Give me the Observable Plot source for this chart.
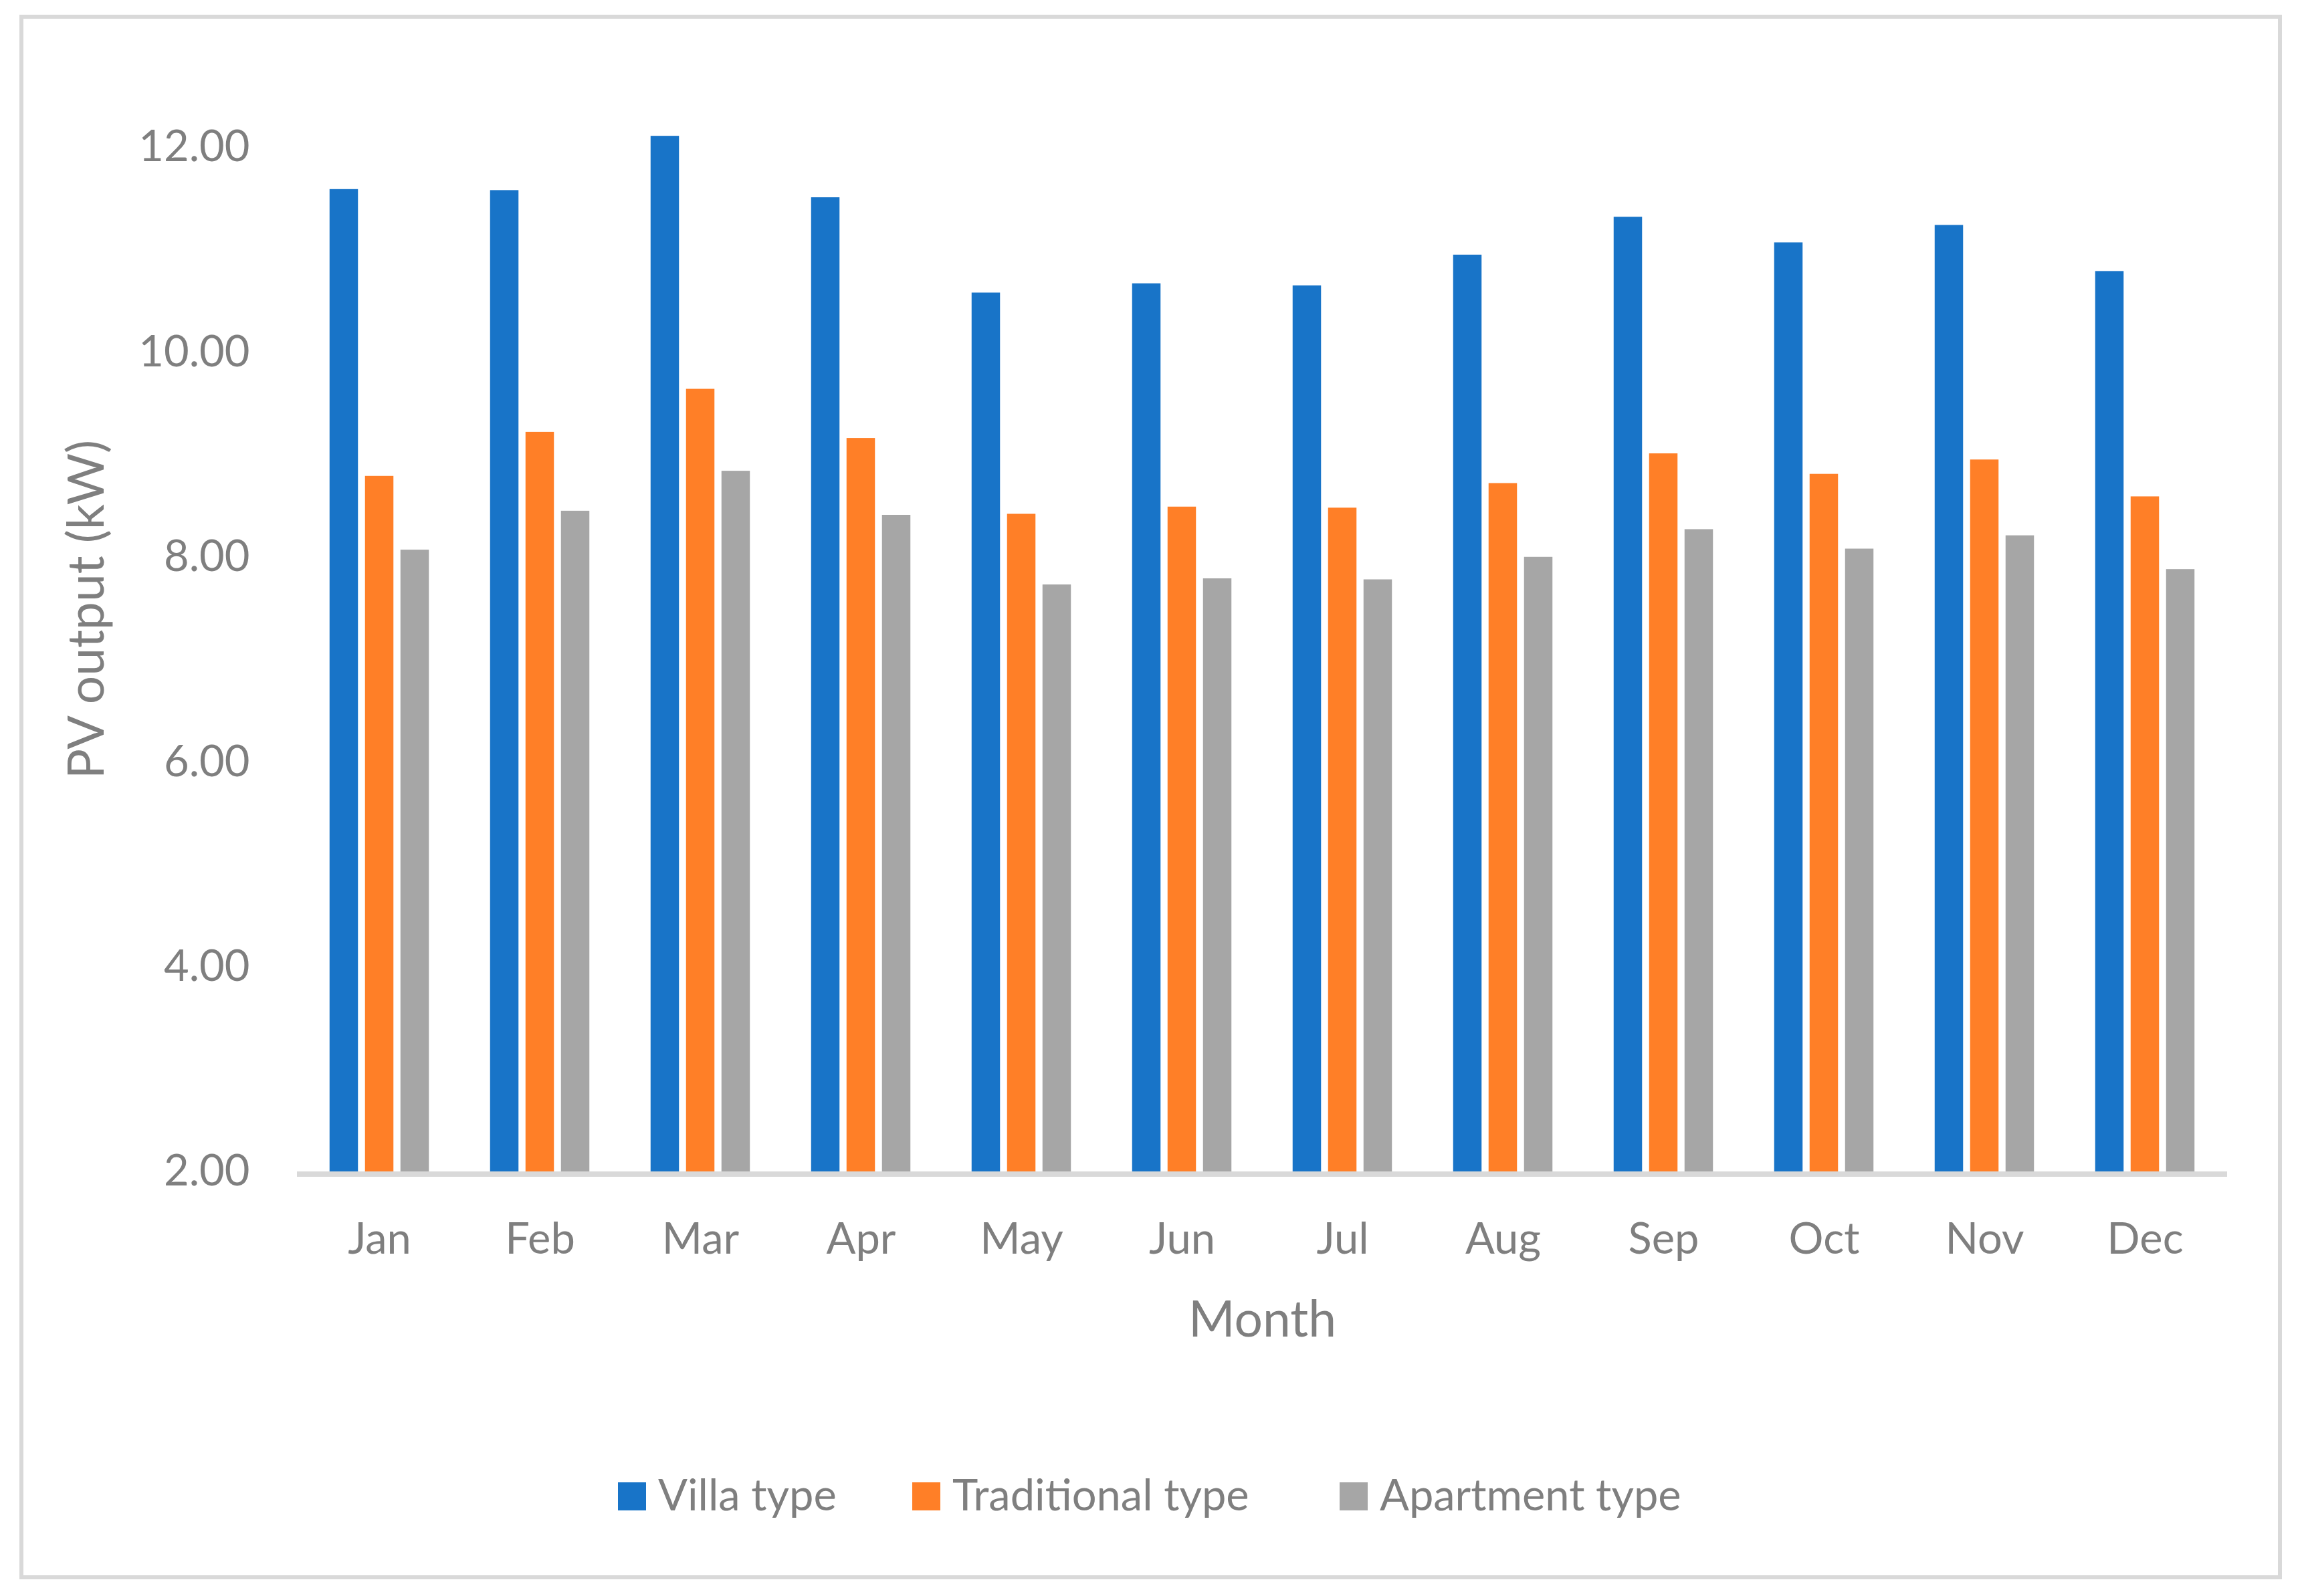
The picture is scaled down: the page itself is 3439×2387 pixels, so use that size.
<!DOCTYPE html>
<html>
<head>
<meta charset="utf-8">
<script src="https://cdn.jsdelivr.net/npm/d3@7"></script>
<script src="https://cdn.jsdelivr.net/npm/@observablehq/plot@0.6"></script>
<style>
html, body { margin: 0; padding: 0; background: #ffffff; overflow: hidden; }
#wrap { position: relative; width: 3439px; height: 2387px; font-family: Lato, "Open Sans", sans-serif; color: #7f7f7f; background: #ffffff; }
#frame { position: absolute; left: 29px; top: 22px; width: 3383px; height: 2340px; border: 6px solid #d9d9d9; box-sizing: border-box; z-index: 2; pointer-events: none; }
#chart { position: absolute; left: 0; top: 0; }
#legend { position: absolute; top: 2202px; left: 0; width: 3439px; height: 80px; font-size: 65px; line-height: 65px; }
.item { position: absolute; top: 0; white-space: nowrap; }
.sw { display: inline-block; width: 42px; height: 42px; margin-right: 18px; }
</style>
</head>
<body>
<div id="wrap">
  <div id="chart"></div>
  <div id="legend"></div>
  <div id="frame"></div>
</div>
<script>
// ---- data ----
const months = ["Jan", "Feb", "Mar", "Apr", "May", "Jun", "Jul", "Aug", "Sep", "Oct", "Nov", "Dec"];
const seriesNames = ["Villa type", "Traditional type", "Apartment type"];
const seriesColors = ["#1874c8", "#ff7f27", "#a6a6a6"];
const villa       = [11.59, 11.58, 12.11, 11.51, 10.58, 10.67, 10.65, 10.95, 11.32, 11.07, 11.24, 10.79];
const traditional = [8.79, 9.22, 9.64, 9.16, 8.42, 8.49, 8.48, 8.72, 9.01, 8.81, 8.95, 8.59];
const apartment   = [8.07, 8.45, 8.84, 8.41, 7.73, 7.79, 7.78, 8.00, 8.27, 8.08, 8.21, 7.88];
const yTicks = [2, 4, 6, 8, 10, 12];
const yTitle = "PV output (kW)";
const xTitle = "Month";

const seriesValues = [villa, traditional, apartment];
const table = months.flatMap((m, i) =>
  seriesNames.map((s, j) => ({ month: m, series: s, value: seriesValues[j][i] }))
);

const barOffset = 53;      // distance between bar centres inside a month
const barInset = 98.75;    // leaves 43px wide bars in a 240.5px band

const plot = Plot.plot({
  width: 3439,
  height: 2100,
  marginLeft: 444,
  marginRight: 109,
  marginTop: 66.8,
  marginBottom: 348,
  style: {
    fontFamily: "Lato, 'Open Sans', sans-serif",
    fontSize: "65px",
    color: "#7f7f7f",
    background: "transparent",
    overflow: "visible"
  },
  x: { domain: months, padding: 0, label: null, tickSize: 0, tickPadding: 76 },
  y: { domain: [2, 13], ticks: yTicks, tickFormat: d3.format(".2f"), label: null, tickSize: 0, tickPadding: 71 },
  color: { domain: seriesNames, range: seriesColors },
  marks: [
    ...seriesNames.map((s, j) =>
      Plot.barY(table.filter(d => d.series === s), {
        x: "month",
        y1: 2,
        y2: "value",
        fill: "series",
        insetLeft: barInset,
        insetRight: barInset,
        dx: (j - 1) * barOffset
      })
    ),
    Plot.ruleY([2], { stroke: "#d9d9d9", strokeWidth: 8, dy: 3.5 }),
    Plot.text([yTitle], { text: d => d, frameAnchor: "left", textAnchor: "middle", dx: -314, dy: 1.6, rotate: -90, fontSize: 75, fill: "#7f7f7f" }),
    Plot.text([xTitle], { text: d => d, frameAnchor: "bottom", textAnchor: "middle", dy: 246, lineAnchor: "bottom", fontSize: 75, fill: "#7f7f7f" })
  ]
});
document.getElementById("chart").appendChild(plot);

// ---- legend ----
const legendLefts = [924, 1364, 2003];
const legend = document.getElementById("legend");
seriesNames.forEach((s, j) => {
  const item = document.createElement("div");
  item.className = "item";
  item.style.left = legendLefts[j] + "px";
  const sw = document.createElement("span");
  sw.className = "sw";
  sw.style.background = seriesColors[j];
  item.appendChild(sw);
  item.appendChild(document.createTextNode(s));
  legend.appendChild(item);
});
</script>
</body>
</html>
